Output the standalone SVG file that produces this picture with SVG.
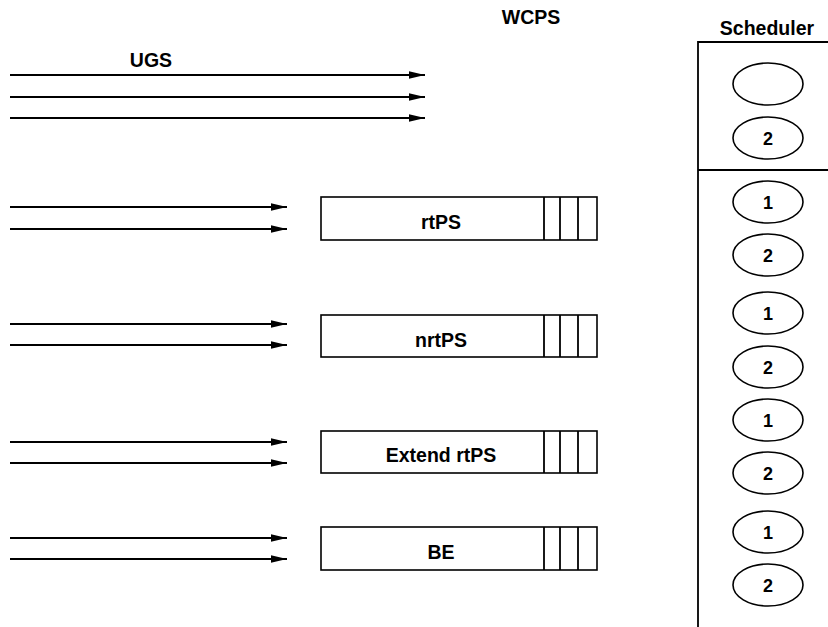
<svg xmlns="http://www.w3.org/2000/svg" width="828" height="627" viewBox="0 0 828 627">
<defs>
<marker id="ah" markerUnits="userSpaceOnUse" markerWidth="17" markerHeight="9" refX="16" refY="4.5" orient="auto">
<path d="M0,0.8 L16,4.5 L0,8.2 Z" fill="#000"/>
</marker>
</defs>
<style>
text{font-family:"Liberation Sans",Arial,sans-serif;font-weight:bold;font-size:19.5px;fill:#000;text-anchor:middle}
.num{font-size:18px}
.ln{stroke:#000;stroke-width:1.8;fill:none}
.box{stroke:#000;stroke-width:1.6;fill:#fff}
.ell{stroke:#000;stroke-width:1.6;fill:#fff}
.arr{stroke:#000;stroke-width:1.8;fill:none;marker-end:url(#ah)}
</style>
<rect width="828" height="627" fill="#fff"/>
<g id="titles">
<text x="151" y="67">UGS</text>
<text x="531" y="24">WCPS</text>
<text x="767" y="35">Scheduler</text>
</g>
<g id="connectors">
<line class="arr" x1="10" y1="75" x2="425" y2="75"/>
<line class="arr" x1="10" y1="97" x2="425" y2="97"/>
<line class="arr" x1="10" y1="118" x2="425" y2="118"/>
<line class="arr" x1="10" y1="207" x2="287" y2="207"/>
<line class="arr" x1="10" y1="229" x2="287" y2="229"/>
<line class="arr" x1="10" y1="324" x2="287" y2="324"/>
<line class="arr" x1="10" y1="345" x2="287" y2="345"/>
<line class="arr" x1="10" y1="442" x2="287" y2="442"/>
<line class="arr" x1="10" y1="463" x2="287" y2="463"/>
<line class="arr" x1="10" y1="538" x2="287" y2="538"/>
<line class="arr" x1="10" y1="559" x2="287" y2="559"/>
</g>
<g id="rtPS">
<rect class="box" x="321" y="197" width="276" height="43"/>
<line class="ln" x1="544" y1="197" x2="544" y2="240"/>
<line class="ln" x1="560" y1="197" x2="560" y2="240"/>
<line class="ln" x1="578" y1="197" x2="578" y2="240"/>
<text x="441" y="229">rtPS</text>
</g>
<g id="nrtPS">
<rect class="box" x="321" y="315" width="276" height="42"/>
<line class="ln" x1="544" y1="315" x2="544" y2="357"/>
<line class="ln" x1="560" y1="315" x2="560" y2="357"/>
<line class="ln" x1="578" y1="315" x2="578" y2="357"/>
<text x="441" y="347">nrtPS</text>
</g>
<g id="extendrtPS">
<rect class="box" x="321" y="431" width="276" height="42"/>
<line class="ln" x1="544" y1="431" x2="544" y2="473"/>
<line class="ln" x1="560" y1="431" x2="560" y2="473"/>
<line class="ln" x1="578" y1="431" x2="578" y2="473"/>
<text x="441" y="462">Extend rtPS</text>
</g>
<g id="BE">
<rect class="box" x="321" y="527" width="276" height="43"/>
<line class="ln" x1="544" y1="527" x2="544" y2="570"/>
<line class="ln" x1="560" y1="527" x2="560" y2="570"/>
<line class="ln" x1="578" y1="527" x2="578" y2="570"/>
<text x="441" y="559">BE</text>
</g>
<g id="scheduler">
<polyline class="ln" points="828,42 698,42 698,627"/>
<line class="ln" x1="698" y1="170" x2="828" y2="170"/>
</g>
<g id="s0"><ellipse class="ell" cx="768" cy="84" rx="35" ry="21"/></g>
<g id="s1"><ellipse class="ell" cx="768" cy="138" rx="35" ry="21"/><text class="num" x="768" y="145">2</text></g>
<g id="s2"><ellipse class="ell" cx="768" cy="202" rx="35" ry="21"/><text class="num" x="768" y="209">1</text></g>
<g id="s3"><ellipse class="ell" cx="768" cy="255" rx="35" ry="21"/><text class="num" x="768" y="262">2</text></g>
<g id="s4"><ellipse class="ell" cx="768" cy="313" rx="35" ry="21"/><text class="num" x="768" y="320">1</text></g>
<g id="s5"><ellipse class="ell" cx="768" cy="367" rx="35" ry="21"/><text class="num" x="768" y="374">2</text></g>
<g id="s6"><ellipse class="ell" cx="768" cy="420" rx="35" ry="21"/><text class="num" x="768" y="427">1</text></g>
<g id="s7"><ellipse class="ell" cx="768" cy="473" rx="35" ry="21"/><text class="num" x="768" y="480">2</text></g>
<g id="s8"><ellipse class="ell" cx="768" cy="532" rx="35" ry="21"/><text class="num" x="768" y="539">1</text></g>
<g id="s9"><ellipse class="ell" cx="768" cy="585" rx="35" ry="21"/><text class="num" x="768" y="592">2</text></g>
</svg>
